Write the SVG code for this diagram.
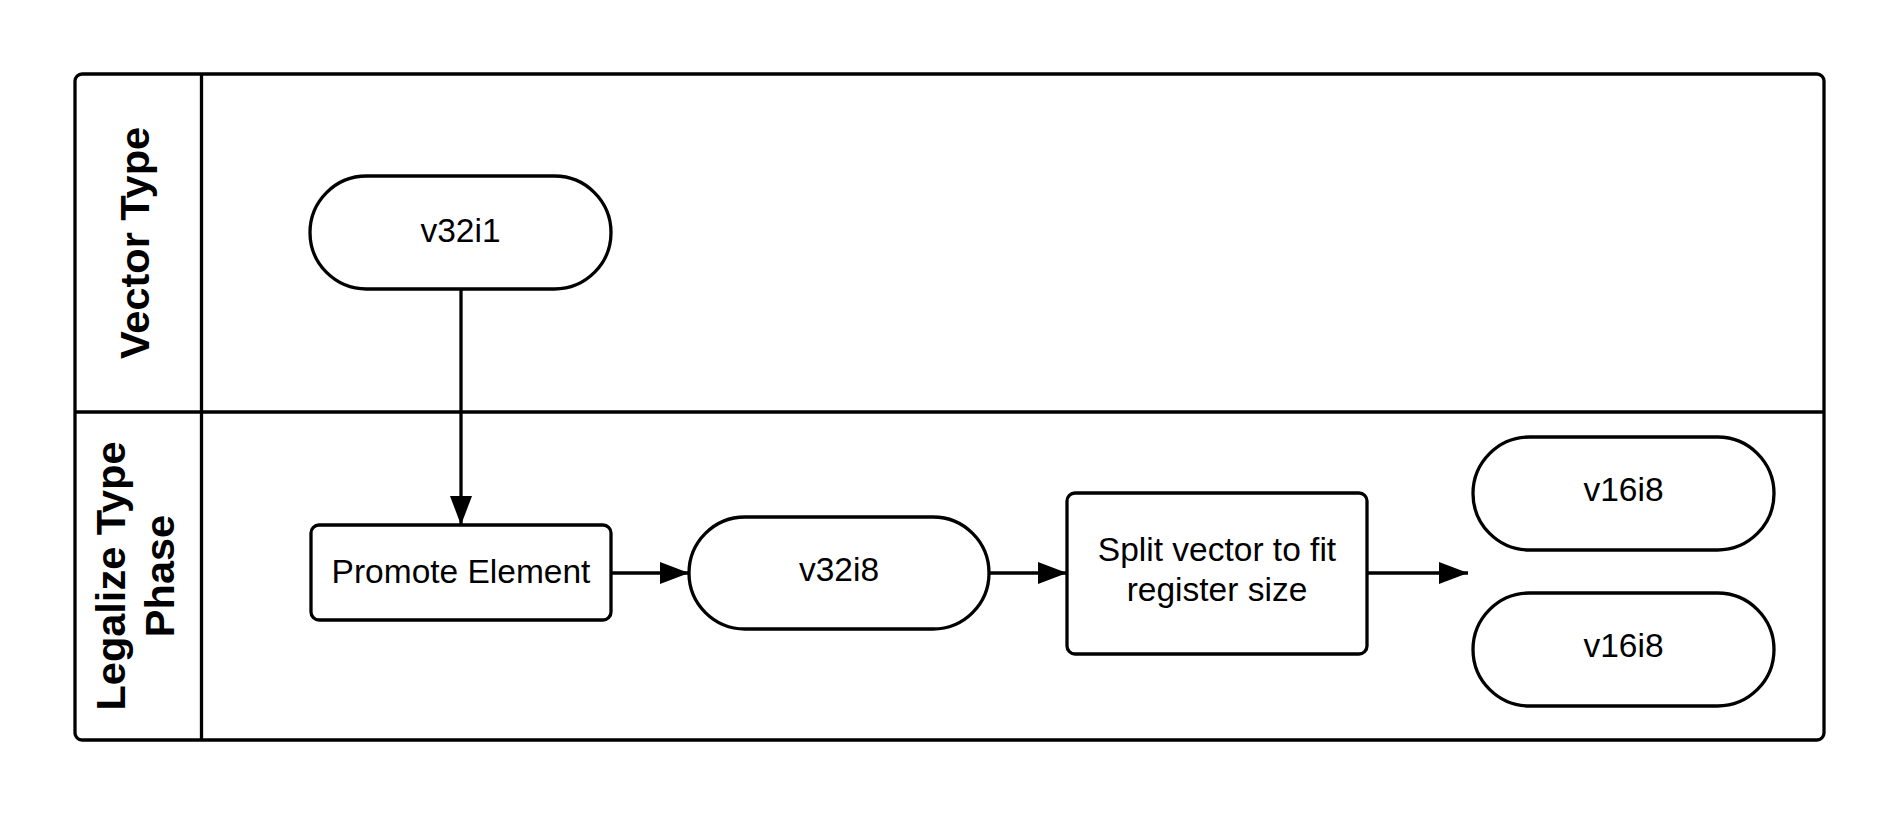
<svg xmlns="http://www.w3.org/2000/svg" width="1899" height="818" viewBox="0 0 1899 818">
  <style>
    .frame { fill: none; stroke: #000; stroke-width: 3.3; }
    .shape { fill: #fff; stroke: #000; stroke-width: 3.3; }
    .lbl { font-family: "Liberation Sans", Arial, sans-serif; font-size: 33.5px; fill: #000; text-anchor: middle; }
    .lane { font-family: "Liberation Sans", Arial, sans-serif; font-size: 41.5px; font-weight: bold; fill: #000; text-anchor: middle; }
    .conn { fill: none; stroke: #000; stroke-width: 3.3; }
  </style>
  <defs>
    <marker id="arrow" markerUnits="userSpaceOnUse" markerWidth="30" markerHeight="24" refX="29" refY="11" orient="auto">
      <path d="M0,0 L29,11 L0,22 Z" fill="#000"/>
    </marker>
  </defs>
  <rect width="1899" height="818" fill="#fff"/>

  <g id="pool">
    <rect class="frame" x="75" y="74" width="1749" height="666" rx="7" ry="7"/>
    <line class="frame" x1="201.5" y1="74" x2="201.5" y2="740"/>
    <line class="frame" x1="75" y1="412" x2="1824" y2="412"/>
  </g>

  <g id="lane-vector-type">
    <text class="lane" transform="translate(149,243) rotate(-90)">Vector Type</text>
  </g>
  <g id="lane-legalize">
    <text class="lane" transform="translate(125,576) rotate(-90)">Legalize Type</text>
    <text class="lane" transform="translate(174,576) rotate(-90)">Phase</text>
  </g>

  <g id="connectors">
    <line class="conn" x1="461" y1="289" x2="461" y2="525" marker-end="url(#arrow)"/>
    <line class="conn" x1="611" y1="573" x2="689" y2="573" marker-end="url(#arrow)"/>
    <line class="conn" x1="989" y1="573" x2="1067" y2="573" marker-end="url(#arrow)"/>
    <line class="conn" x1="1367" y1="573" x2="1468" y2="573" marker-end="url(#arrow)"/>
  </g>

  <g id="node-v32i1">
    <rect class="shape" x="310" y="176" width="301" height="113" rx="56.5" ry="56.5"/>
    <text class="lbl" x="460.5" y="241.5">v32i1</text>
  </g>
  <g id="node-promote">
    <rect class="shape" x="311" y="525" width="300" height="95" rx="8" ry="8"/>
    <text class="lbl" x="461" y="582.5">Promote Element</text>
  </g>
  <g id="node-v32i8">
    <rect class="shape" x="689" y="517" width="300" height="112" rx="56" ry="56"/>
    <text class="lbl" x="839" y="581">v32i8</text>
  </g>
  <g id="node-split">
    <rect class="shape" x="1067" y="493" width="300" height="161" rx="8" ry="8"/>
    <text class="lbl" x="1217" y="561">Split vector to fit</text>
    <text class="lbl" x="1217" y="601">register size</text>
  </g>
  <g id="node-v16i8-a">
    <rect class="shape" x="1473" y="437" width="301" height="113" rx="56.5" ry="56.5"/>
    <text class="lbl" x="1623.5" y="501">v16i8</text>
  </g>
  <g id="node-v16i8-b">
    <rect class="shape" x="1473" y="593" width="301" height="113" rx="56.5" ry="56.5"/>
    <text class="lbl" x="1623.5" y="657">v16i8</text>
  </g>
</svg>
